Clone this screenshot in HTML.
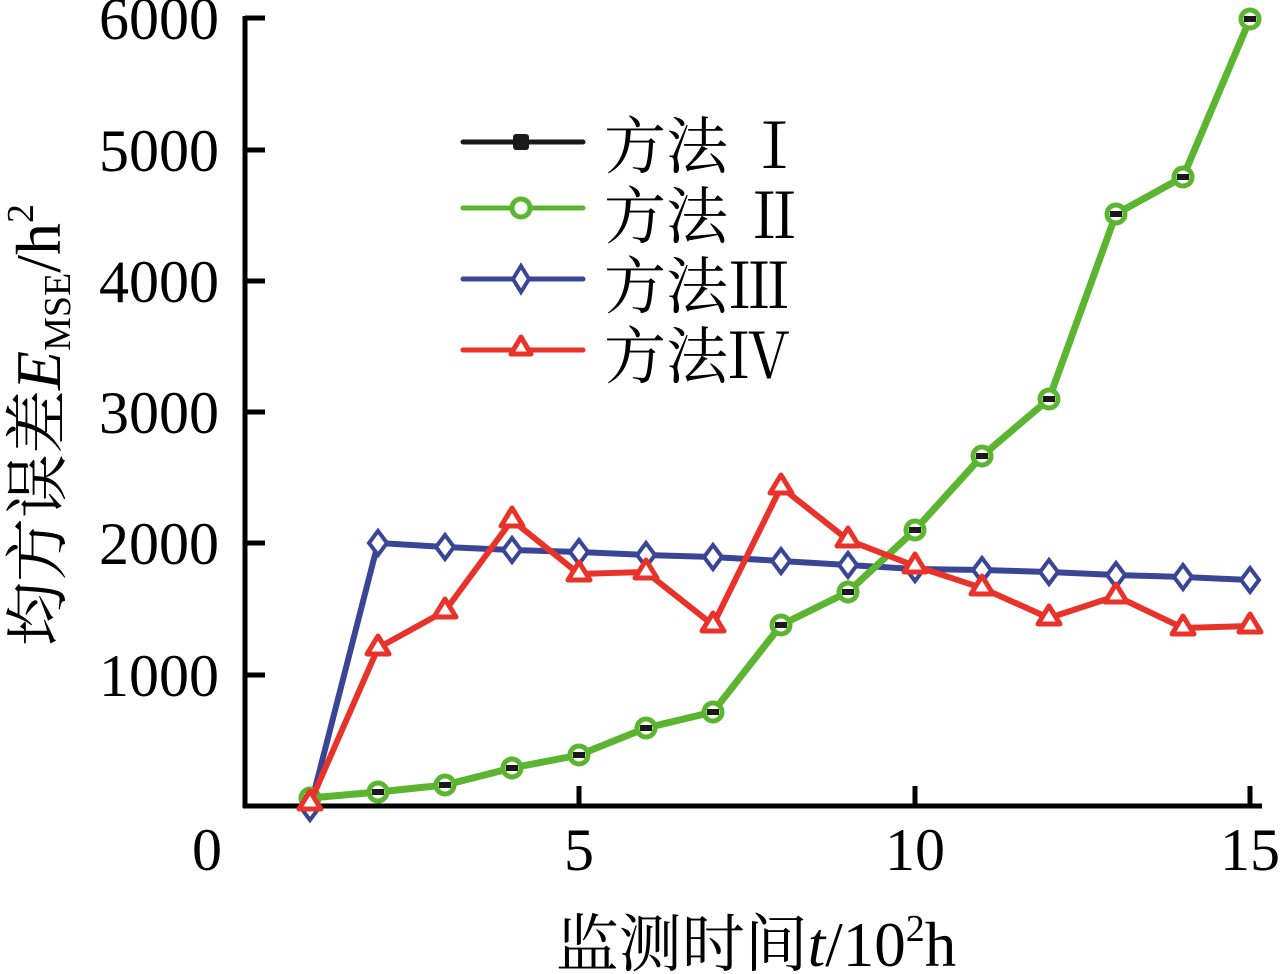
<!DOCTYPE html>
<html><head><meta charset="utf-8"><style>
html,body{margin:0;padding:0;background:#fff;}
svg{display:block;}
text{font-family:"Liberation Serif","Noto Serif CJK SC",serif;fill:#000;}
</style></head><body>
<svg width="1280" height="974" viewBox="0 0 1280 974" xmlns="http://www.w3.org/2000/svg">
<g stroke="#000" stroke-width="5" fill="none">
<line x1="245" y1="16" x2="245" y2="808"/>
<line x1="243" y1="806" x2="1262" y2="806"/>
<line x1="245" y1="18" x2="265" y2="18"/>
<line x1="245" y1="150" x2="265" y2="150"/>
<line x1="245" y1="281" x2="265" y2="281"/>
<line x1="245" y1="412" x2="265" y2="412"/>
<line x1="245" y1="543" x2="265" y2="543"/>
<line x1="245" y1="675" x2="265" y2="675"/>
<line x1="579" y1="806" x2="579" y2="786"/>
<line x1="915" y1="806" x2="915" y2="786"/>
<line x1="1250" y1="806" x2="1250" y2="786"/>
</g>
<g font-size="60" text-anchor="end">
<text x="219" y="39">6000</text>
<text x="219" y="171">5000</text>
<text x="219" y="302">4000</text>
<text x="219" y="433">3000</text>
<text x="219" y="564">2000</text>
<text x="219" y="696">1000</text>
</g>
<g font-size="60" text-anchor="middle">
<text x="207" y="870">0</text>
<text x="579" y="870">5</text>
<text x="915" y="870">10</text>
<text x="1250" y="870">15</text>
</g>
<text x="756" y="966" font-size="63" text-anchor="middle">监测时间<tspan font-style="italic">t</tspan>/10<tspan font-size="38" dy="-25">2</tspan><tspan dy="25">h</tspan></text>
<text transform="translate(60,425) rotate(-90)" font-size="64" text-anchor="middle">均方误差<tspan font-style="italic">E</tspan><tspan font-size="38" dy="10">MSE</tspan><tspan dy="-10">/h</tspan><tspan font-size="38" dy="-27">2</tspan></text>

<!-- blue -->
<polyline fill="none" stroke="#3a4596" stroke-width="6" points="310,808 378,543 445,547 512,550 579,552 646,555 713,557 781,561 848,565 915,569 982,570 1049,572 1116,575 1183,577 1250,580"/>
<g fill="#fff" stroke="#3a4596" stroke-width="4">
<path d="M310,796 l9,12 l-9,12 l-9,-12z"/>
<path d="M378,531 l9,12 l-9,12 l-9,-12z"/><path d="M445,535 l9,12 l-9,12 l-9,-12z"/><path d="M512,538 l9,12 l-9,12 l-9,-12z"/><path d="M579,540 l9,12 l-9,12 l-9,-12z"/><path d="M646,543 l9,12 l-9,12 l-9,-12z"/><path d="M713,545 l9,12 l-9,12 l-9,-12z"/><path d="M781,549 l9,12 l-9,12 l-9,-12z"/><path d="M848,553 l9,12 l-9,12 l-9,-12z"/><path d="M915,557 l9,12 l-9,12 l-9,-12z"/><path d="M982,558 l9,12 l-9,12 l-9,-12z"/><path d="M1049,560 l9,12 l-9,12 l-9,-12z"/><path d="M1116,563 l9,12 l-9,12 l-9,-12z"/><path d="M1183,565 l9,12 l-9,12 l-9,-12z"/><path d="M1250,568 l9,12 l-9,12 l-9,-12z"/>
</g>
<!-- green -->
<polyline fill="none" stroke="#5cb531" stroke-width="7" points="310,798 378,792 445,785 512,768 579,755 646,728 713,712 781,625 848,592 915,530 982,456 1049,399 1116,214 1183,177 1250,19"/>
<g fill="#fff" stroke="#5cb531" stroke-width="5">
<circle cx="310" cy="798" r="9"/><circle cx="378" cy="792" r="9"/><circle cx="445" cy="785" r="9"/><circle cx="512" cy="768" r="9"/><circle cx="579" cy="755" r="9"/><circle cx="646" cy="728" r="9"/><circle cx="713" cy="712" r="9"/><circle cx="781" cy="625" r="9"/><circle cx="848" cy="592" r="9"/><circle cx="915" cy="530" r="9"/><circle cx="982" cy="456" r="9"/><circle cx="1049" cy="399" r="9"/><circle cx="1116" cy="214" r="9"/><circle cx="1183" cy="177" r="9"/><circle cx="1250" cy="19" r="9"/>
</g>
<g fill="#1a1a1a">
<rect x="304" y="795" width="12" height="6"/><rect x="372" y="789" width="12" height="6"/><rect x="439" y="782" width="12" height="6"/><rect x="506" y="765" width="12" height="6"/><rect x="573" y="752" width="12" height="6"/><rect x="640" y="725" width="12" height="6"/><rect x="707" y="709" width="12" height="6"/><rect x="775" y="622" width="12" height="6"/><rect x="842" y="589" width="12" height="6"/><rect x="909" y="527" width="12" height="6"/><rect x="976" y="453" width="12" height="6"/><rect x="1043" y="396" width="12" height="6"/><rect x="1110" y="211" width="12" height="6"/><rect x="1177" y="174" width="12" height="6"/><rect x="1244" y="16" width="12" height="6"/>
</g>
<!-- red -->
<polyline fill="none" stroke="#e8322a" stroke-width="6" points="310,803 378,648 445,611 512,520 579,574 646,572 713,625 781,487 848,540 915,566 982,588 1049,618 1116,596 1183,628 1250,626"/>
<g fill="#fff" stroke="#e8322a" stroke-width="5" stroke-linejoin="round">
<path d="M310,791 l11,18 h-22z"/><path d="M378,636 l11,18 h-22z"/><path d="M445,599 l11,18 h-22z"/><path d="M512,508 l11,18 h-22z"/><path d="M579,562 l11,18 h-22z"/><path d="M646,560 l11,18 h-22z"/><path d="M713,613 l11,18 h-22z"/><path d="M781,475 l11,18 h-22z"/><path d="M848,528 l11,18 h-22z"/><path d="M915,554 l11,18 h-22z"/><path d="M982,576 l11,18 h-22z"/><path d="M1049,606 l11,18 h-22z"/><path d="M1116,584 l11,18 h-22z"/><path d="M1183,616 l11,18 h-22z"/><path d="M1250,614 l11,18 h-22z"/>
</g>
<!-- legend -->
<g stroke-width="5" stroke-linecap="round">
<line x1="463" y1="142" x2="583" y2="142" stroke="#1a1a1a"/>
<rect x="513" y="134" width="16" height="16" rx="3" fill="#1a1a1a" stroke="none"/>
<line x1="463" y1="208" x2="583" y2="208" stroke="#5cb531"/>
<circle cx="521" cy="208" r="9" fill="#fff" stroke="#5cb531"/>
<line x1="463" y1="279" x2="583" y2="279" stroke="#3a4596"/>
<path d="M521,266 l8,13 l-8,13 l-8,-13z" fill="#fff" stroke="#3a4596" stroke-width="4"/>
<line x1="463" y1="350" x2="583" y2="350" stroke="#e8322a"/>
<path d="M521,337 l10,17 h-20z" fill="#fff" stroke="#e8322a" stroke-linejoin="round"/>
</g>
<g font-size="62">
<text x="604" y="168">方法 Ⅰ</text>
<text x="604" y="238">方法 Ⅱ</text>
<text x="604" y="308">方法Ⅲ</text>
<text x="604" y="378">方法Ⅳ</text>
</g>
</svg>
</body></html>
